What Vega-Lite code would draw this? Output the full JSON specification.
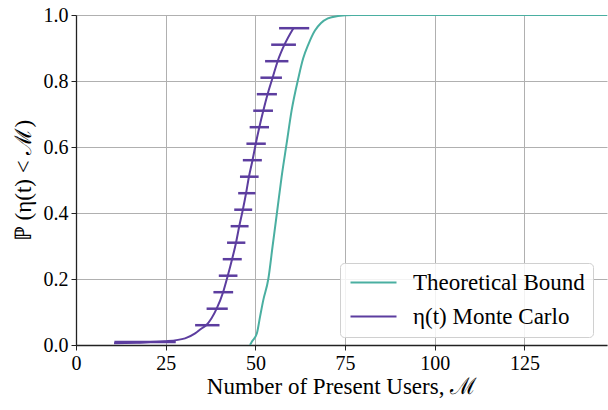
{
  "$schema": "https://vega.github.io/schema/vega-lite/v6.json",
  "autosize": "none",
  "width": 531,
  "height": 330,
  "padding": {"left": 76, "top": 15, "right": 1, "bottom": 65},
  "background": "white",
  "config": {
    "view": {"stroke": null},
    "font": "Liberation Serif",
    "axis": {
      "labelFont": "Liberation Serif",
      "titleFont": "Liberation Serif",
      "labelFontSize": 20,
      "titleFontSize": 23,
      "titleFontWeight": "normal",
      "labelColor": "#000",
      "titleColor": "#000",
      "labelFlush": false,
      "gridColor": "#b0b0b0",
      "gridWidth": 1,
      "domainColor": "#222",
      "domainWidth": 1.3,
      "tickColor": "#222",
      "tickSize": 5,
      "labelPadding": 3
    },
    "legend": {
      "labelFont": "Liberation Serif",
      "labelFontSize": 23,
      "labelColor": "#000",
      "labelLimit": 400
    }
  },
  "datasets": {
    "lines": [
      {"series": "Theoretical Bound", "x": 48.5, "y": 0},
      {"series": "Theoretical Bound", "x": 49.0, "y": 0.01},
      {"series": "Theoretical Bound", "x": 50.4, "y": 0.035},
      {"series": "Theoretical Bound", "x": 51.3, "y": 0.086},
      {"series": "Theoretical Bound", "x": 52.2, "y": 0.136},
      {"series": "Theoretical Bound", "x": 53.6, "y": 0.2},
      {"series": "Theoretical Bound", "x": 54.8, "y": 0.3},
      {"series": "Theoretical Bound", "x": 56.0, "y": 0.4},
      {"series": "Theoretical Bound", "x": 57.3, "y": 0.509},
      {"series": "Theoretical Bound", "x": 58.7, "y": 0.61},
      {"series": "Theoretical Bound", "x": 60.1, "y": 0.711},
      {"series": "Theoretical Bound", "x": 62.0, "y": 0.81},
      {"series": "Theoretical Bound", "x": 63.3, "y": 0.868},
      {"series": "Theoretical Bound", "x": 64.8, "y": 0.912},
      {"series": "Theoretical Bound", "x": 66.6, "y": 0.953},
      {"series": "Theoretical Bound", "x": 68.3, "y": 0.976},
      {"series": "Theoretical Bound", "x": 70.2, "y": 0.99},
      {"series": "Theoretical Bound", "x": 73.0, "y": 0.997},
      {"series": "Theoretical Bound", "x": 77, "y": 1.0},
      {"series": "Theoretical Bound", "x": 148, "y": 1.0},
      {"series": "η(t) Monte Carlo", "x": 10.6, "y": 0.005},
      {"series": "η(t) Monte Carlo", "x": 17, "y": 0.007},
      {"series": "η(t) Monte Carlo", "x": 24.8, "y": 0.011},
      {"series": "η(t) Monte Carlo", "x": 30.4, "y": 0.02},
      {"series": "η(t) Monte Carlo", "x": 33.2, "y": 0.035},
      {"series": "η(t) Monte Carlo", "x": 35.0, "y": 0.05},
      {"series": "η(t) Monte Carlo", "x": 36.3, "y": 0.06},
      {"series": "η(t) Monte Carlo", "x": 39.2, "y": 0.11},
      {"series": "η(t) Monte Carlo", "x": 41.0, "y": 0.16},
      {"series": "η(t) Monte Carlo", "x": 42.3, "y": 0.21},
      {"series": "η(t) Monte Carlo", "x": 43.5, "y": 0.26},
      {"series": "η(t) Monte Carlo", "x": 44.6, "y": 0.31},
      {"series": "η(t) Monte Carlo", "x": 45.5, "y": 0.36},
      {"series": "η(t) Monte Carlo", "x": 46.5, "y": 0.41},
      {"series": "η(t) Monte Carlo", "x": 47.4, "y": 0.46},
      {"series": "η(t) Monte Carlo", "x": 48.2, "y": 0.51},
      {"series": "η(t) Monte Carlo", "x": 49.2, "y": 0.56},
      {"series": "η(t) Monte Carlo", "x": 50.1, "y": 0.61},
      {"series": "η(t) Monte Carlo", "x": 51.1, "y": 0.66},
      {"series": "η(t) Monte Carlo", "x": 52.2, "y": 0.71},
      {"series": "η(t) Monte Carlo", "x": 53.4, "y": 0.76},
      {"series": "η(t) Monte Carlo", "x": 54.8, "y": 0.81},
      {"series": "η(t) Monte Carlo", "x": 56.2, "y": 0.86},
      {"series": "η(t) Monte Carlo", "x": 58.1, "y": 0.91},
      {"series": "η(t) Monte Carlo", "x": 60.6, "y": 0.96}
    ],
    "bars": [
      {"y": 0.009, "lo": 10.7, "hi": 27.8},
      {"y": 0.06, "lo": 33.2, "hi": 40.0},
      {"y": 0.11, "lo": 36.4, "hi": 42.3},
      {"y": 0.16, "lo": 38.3, "hi": 43.8},
      {"y": 0.21, "lo": 39.8, "hi": 45.0},
      {"y": 0.26, "lo": 40.9, "hi": 46.2},
      {"y": 0.31, "lo": 42.1, "hi": 47.2},
      {"y": 0.36, "lo": 43.1, "hi": 48.1},
      {"y": 0.41, "lo": 44.1, "hi": 49.1},
      {"y": 0.46, "lo": 45.2, "hi": 50.0},
      {"y": 0.51, "lo": 45.7, "hi": 50.9},
      {"y": 0.56, "lo": 46.5, "hi": 51.8},
      {"y": 0.61, "lo": 47.5, "hi": 52.9},
      {"y": 0.66, "lo": 48.4, "hi": 53.8},
      {"y": 0.71, "lo": 49.4, "hi": 54.9},
      {"y": 0.76, "lo": 50.4, "hi": 56.0},
      {"y": 0.81, "lo": 51.4, "hi": 57.4},
      {"y": 0.86, "lo": 52.7, "hi": 59.2},
      {"y": 0.91, "lo": 54.4, "hi": 61.3},
      {"y": 0.96, "lo": 56.6, "hi": 65.0}
    ]
  },
  "layer": [
    {
      "data": {"name": "bars"},
      "mark": {"type": "rule", "color": "#5c3d9f", "strokeWidth": 2.5},
      "encoding": {
        "x": {"field": "lo", "type": "quantitative", "scale": {"domain": [0, 148], "nice": false}},
        "x2": {"field": "hi"},
        "y": {"field": "y", "type": "quantitative"}
      }
    },
    {
      "data": {"name": "lines"},
      "mark": {"type": "line", "strokeWidth": 2, "interpolate": "monotone", "clip": true},
      "encoding": {
        "x": {
          "field": "x", "type": "quantitative",
          "scale": {"domain": [0, 148], "nice": false, "zero": false},
          "axis": {"values": [0, 25, 50, 75, 100, 125], "title": "Number of Present Users, ℳ", "titlePadding": 2}
        },
        "y": {
          "field": "y", "type": "quantitative",
          "scale": {"domain": [0, 1], "nice": false},
          "axis": {"values": [0, 0.2, 0.4, 0.6, 0.8, 1.0], "format": ".1f", "title": "ℙ (η(t) < ℳ)", "titlePadding": 8}
        },
        "color": {
          "field": "series", "type": "nominal",
          "scale": {"domain": ["Theoretical Bound", "η(t) Monte Carlo"], "range": ["#4aafa1", "#5c3d9f"]},
          "legend": {
            "title": null,
            "orient": "none",
            "legendX": 264,
            "legendY": 248,
            "symbolType": "M-2.3,0H2.3",
            "symbolSize": 400,
            "symbolStrokeWidth": 2,
            "symbolOffset": 14,
            "padding": 8,
            "rowPadding": 10,
            "labelOffset": 28,
            "strokeColor": "#d0d0d0",
            "fillColor": "rgba(255,255,255,0.85)",
            "cornerRadius": 4
          }
        },
        "order": {"field": "x", "type": "quantitative"}
      }
    }
  ]
}
